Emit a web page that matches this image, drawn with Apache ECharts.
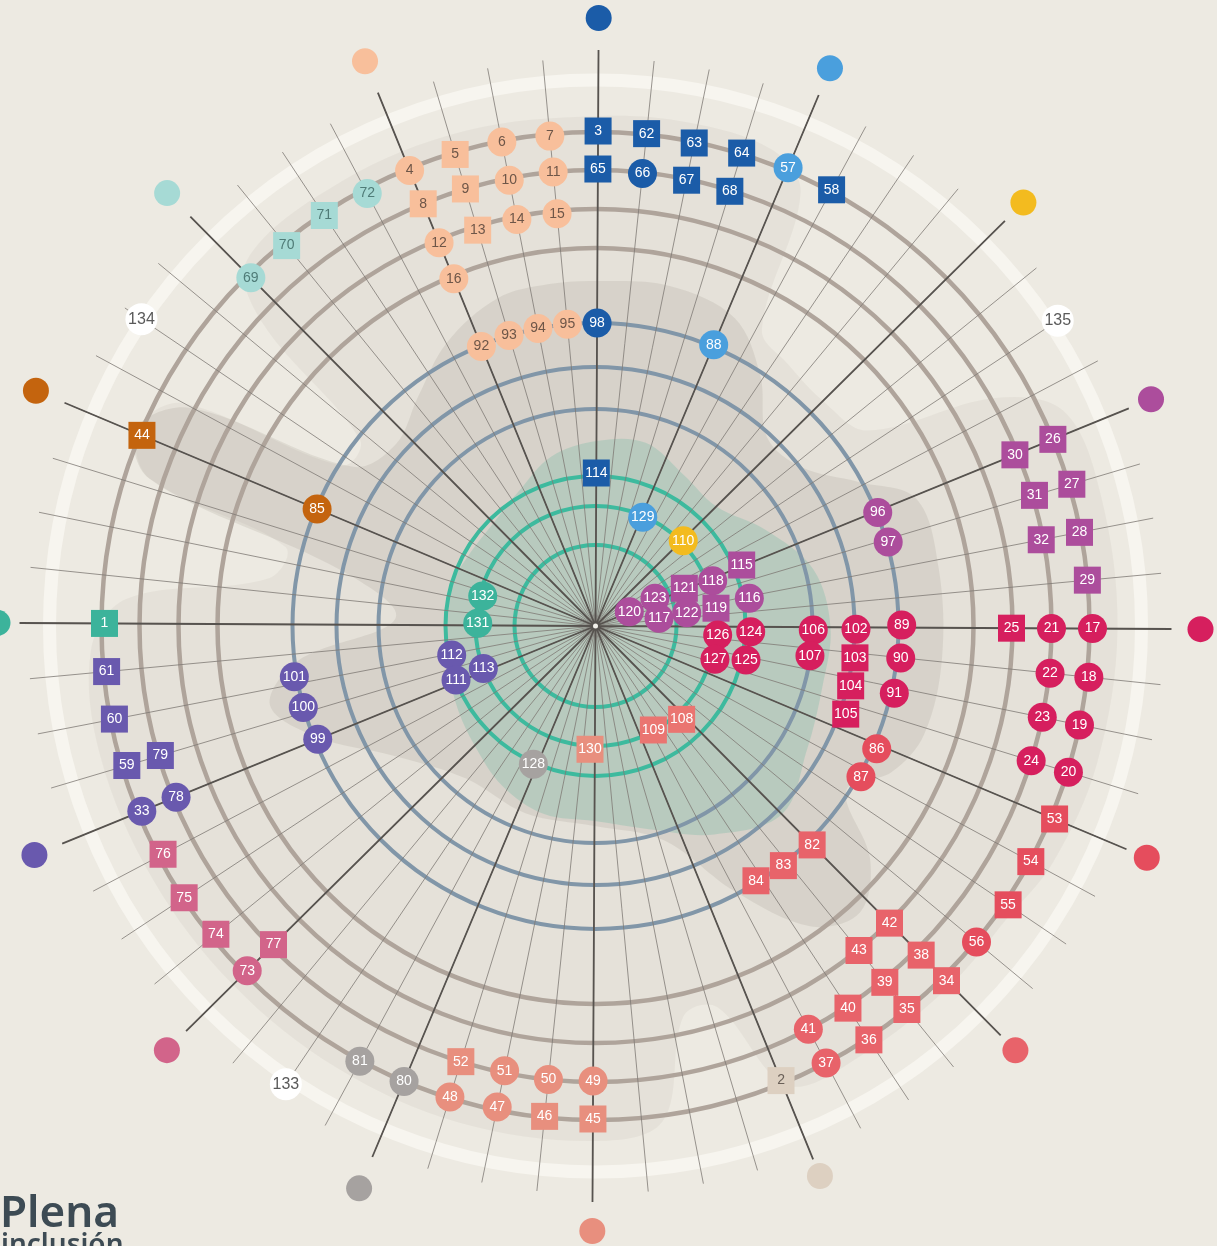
<!DOCTYPE html>
<html><head><meta charset="utf-8">
<script src="https://cdn.jsdelivr.net/npm/echarts/dist/echarts.min.js"></script>
<style>html,body{margin:0;padding:0;background:#edeae2;overflow:hidden}#c{width:1217px;height:1246px}</style>
</head><body><div id="c"></div>
<script>
// ---------- DATA ----------
// angle in degrees clockwise from top, radius in chart units (= px from centre)
const markerIds = [
  3,62,63,64,65,66,67,68,58,98,114,
  57,88,129,
  110,
  26,30,27,31,28,32,29,96,97,115,118,121,116,123,120,117,122,119,
  17,21,25,18,22,19,23,20,24,89,102,106,107,103,90,104,91,105,126,124,127,125,
  53,54,55,56,86,87,
  34,38,42,82,35,39,43,83,36,40,84,37,41,
  108,109,
  2,
  45,49,46,50,47,51,48,52,130,
  80,81,128,
  133,134,135,
  73,77,74,75,76,
  33,78,99,59,79,100,60,101,61,112,113,111,
  1,131,132,
  44,85,
  69,70,71,72,
  4,5,6,7,8,9,10,11,12,13,14,15,16,92,93,94,95
];
const markerAngles = [
  0,5.625,11.25,16.875,0,5.625,11.25,16.875,28.125,0,0,
  22.5,22.5,23.2,
  45.5,
  67.5,67.5,73.125,73.125,78.75,78.75,84.375,67.8,73.7,67.05,68.6,66.7,79.5,64.7,66.8,82.8,81.4,81.3,
  90,90,90,95.625,95.625,101.25,101.25,106.875,106.875,89.5,90.4,90.75,97.6,96.7,95.7,102.9,102.4,109.1,93.9,91.8,105.3,102.4,
  112.5,118.125,123.75,129.375,113.3,119.3,
  135,135,135,135,140.625,140.625,140.625,141.6,146.25,146.25,147.5,151.875,151.875,
  137,150.6,
  157.5,
  180,180,185.625,185.625,191.25,191.25,196.875,196.875,182.25,
  202.5,208.125,203.9,
  213.75,303.75,56.25,
  225,225,230.625,236.25,241.875,
  247.5,247.5,247.5,253.125,253.125,254.1,258.75,260.15,264.375,258.3,249,248.5,
  270,271,284.6,
  292.5,292.5,
  315,320.625,326.25,331.875,
  337.5,343.125,348.75,354.375,337.5,343.125,348.75,354.375,337.5,343.125,348.75,354.375,337.5,337.5,343.125,348.75,354.375
];
const markerRadii = [
  495,495,493,495,457,455,455,455,496,303,153,
  497,305,118.5,
  122.4,
  494,453,497,458,493,454,494,304.2,304.5,158.4,125.6,96.5,156.3,65.6,36.7,64,92.2,121.8,
  497,456,416,496,457,494,456,495,456,306.2,260.5,217.8,216.5,261.4,306.9,262.1,306.3,265.3,122.5,155.3,124,154.3,
  498,495,498,495,306.9,305.3,
  499,463,418,308,494,459,418,304.5,496,458,301.1,494,456,
  127,119,
  491,
  493,455,493,456,491,454,493,456,123.4,
  494,495,151.6,
  553,548,554,
  490,453,489,493,489,
  490,453,300,489,454,303.4,490,305.4,491,146.7,119.9,149.6,
  491,117.8,116.7,
  492,302,
  490,490,492,489,
  492,492,493,492,456,456,454,456,414,413,414,414,375,302,303,303,303
];
// s = square, c = circle
const markerShapes = (
  'ssssscssscs' + 'ccc' + 'c' +
  'ssssssscc' + 'scs' + 'cccccs' +
  'ccs' + 'cccccc' + 'cccc' + 'scscs' + 'cccc' +
  'sssccc' +
  'sssssssssss' + 'cc' + 'ss' +
  's' + 'scsccccss' + 'ccc' + 'ccc' + 'cssss' +
  'cccsscscsccc' + 'scc' + 'sc' + 'cssc' +
  'cscc' + 'sscc' + 'cscc' + 'c' + 'cccc'
).split('');
// colour group of each run of markers above
const groupRuns = [['db',11],['lb',3],['ye',1],['pu',18],['cr',22],['re',6],['co',13],['sr',2],['be',1],
  ['sa',9],['gr',3],['wh',3],['pi',5],['in',12],['te',3],['or',2],['lt',4],['pe',17]];

// outer category dots
const dotAngles = [0,22.5,45,67.5,90,112.5,135,157.5,180,202.5,225,247.5,270,292.5,315,337.5];
const dotRadii  = [608,605,602,600,605,598,597,594,605,610,603,606,598,607,609,610];
const dotGroups = ['db','lb','ye','pu','cr','re','co','be','sa','gr','pi','in','te','or','lt','pe'];

// rings
const ringRadii = [546,494,456,417,378,303,259,217,150,120,81];
const ringKinds = ['pale','brown','brown','brown','brown','blue','blue','blue','teal','teal','teal'];

// background shapes (angle, radius samples)
const lightBlobAngles = [0,10,20,25,29,36,45,54,60,65,75,90,105,117,125,135,148,157,162,167,172,180,195,210,225,240,255,267,273,278,284,288,293,298,302,308,312,316,330,345];
const lightBlobRadii  = [510,512,508,480,340,325,320,335,460,515,522,522,520,515,505,505,505,498,400,400,500,515,515,512,510,510,512,505,470,330,320,470,498,470,300,300,450,505,512,512];
const midBlobAngles = [0,12,24,33,42,52,61,68,80,95,108,116,123,130,137,144,152,162,180,200,220,237,248,256,263,272,282,288,293,298,303,312,322,332,343,352];
const midBlobRadii  = [345,348,338,300,255,260,300,345,348,348,346,330,300,360,390,370,300,225,200,200,200,240,300,335,300,200,260,470,500,460,290,270,290,320,342,345];
const tealBlobAngles = [0,15,30,45,60,75,90,105,120,135,150,165,180,195,210,225,240,255,270,285,300,315,330,345];
const tealBlobRadii  = [185,190,175,170,195,225,235,235,245,265,240,210,195,195,185,170,160,152,150,150,145,145,155,175];

// ---------- STYLE ----------
const CX = 595.5, CY = 626, RMAX = 620;
const groupColor = {db:'#1b5ca8',lb:'#4a9fdd',ye:'#f3bb1f',pu:'#ac4d9c',cr:'#d61f5e',re:'#e54d5d',co:'#e8636a',
  sr:'#ea7571',be:'#ddd0c1',sa:'#e88f7e',gr:'#a6a2a0',wh:'#ffffff',pi:'#d2648a',in:'#6959ae',te:'#3cb39b',
  or:'#c4640e',lt:'#a6dad5',pe:'#f8bf9b'};
const labelColor = {pe:'#6e5648',lt:'#4f7b77',be:'#6a6058',wh:'#5a5a5a'};
const ringStyle = {pale:{c:'#f7f5ef',w:13},brown:{c:'#afa49b',w:4.5},blue:{c:'#8196a8',w:4},teal:{c:'#3dba9e',w:4}};
const FONT = "'Liberation Sans Narrow','Liberation Sans',Arial,sans-serif";

const markerGroups = [];
groupRuns.forEach(([g,n]) => { for (let k = 0; k < n; k++) markerGroups.push(g); });

const markerData = markerIds.map((id,i) => {
  const g = markerGroups[i], sq = markerShapes[i] === 's';
  return {
    name: String(id),
    value: [markerRadii[i], markerAngles[i]],
    symbol: sq ? 'rect' : 'circle',
    symbolSize: sq ? 27 : (g === 'wh' ? 32 : 29),
    itemStyle: {color: groupColor[g], opacity: 1},
    label: {color: labelColor[g] || '#ffffff', fontSize: g === 'wh' ? 16 : 14}
  };
});
const dotData = dotAngles.map((a,i) => ({value:[dotRadii[i], a], itemStyle:{color: groupColor[dotGroups[i]], opacity: 1}}));

const blobs = [
  {a: lightBlobAngles, r: lightBlobRadii, fill: 'rgba(140,132,120,0.08)'},
  {a: midBlobAngles, r: midBlobRadii, fill: 'rgba(140,135,125,0.16)'},
  {a: tealBlobAngles, r: tealBlobRadii, fill: 'rgba(95,180,160,0.26)'}
];

const chart = echarts.init(document.getElementById('c'), null, {renderer:'canvas'});
const option = {
  backgroundColor: '#edeae2',
  animation: false,
  polar: [
    {center:[CX,CY], radius:568},
    {center:[CX,CY], radius:576},
    {center:[CX,CY], radius:RMAX}
  ],
  angleAxis: [0,1,2].map(i => ({
    polarIndex:i, type:'value', min:0, max:360, interval:[5.625,22.5,90][i],
    startAngle:89.7, clockwise:true, z:3,
    axisLine:{show:false}, axisTick:{show:false}, axisLabel:{show:false},
    splitLine:{show:i<2, lineStyle: i===0 ? {color:'#7f7a75', width:0.8} : {color:'#57534f', width:1.8}}
  })),
  radiusAxis: [0,1,2].map(i => ({
    polarIndex:i, type:'value', min:0, max:[568,576,RMAX][i],
    axisLine:{show:false}, axisTick:{show:false}, axisLabel:{show:false}, splitLine:{show:false}
  })),
  series: [
    {
      type:'custom', coordinateSystem:'polar', polarIndex:2, z:1, silent:true,
      data: blobs.map((b,i) => [0,0,i]),
      renderItem: (params, api) => {
        const b = blobs[params.dataIndex];
        const pts = b.a.map((a,k) => api.coord([b.r[k], a]));
        return {type:'polygon', shape:{points:pts, smooth:0.35}, style:{fill:b.fill}};
      }
    },
    {
      type:'custom', coordinateSystem:'polar', polarIndex:2, z:2, silent:true,
      data: ringRadii.map((r,i) => [r,0,i]),
      renderItem: (params, api) => {
        const i = params.dataIndex;
        const c = api.coord([0,0]);
        const p = api.coord([ringRadii[i], 0]);
        const rr = Math.hypot(p[0]-c[0], p[1]-c[1]);
        const st = ringStyle[ringKinds[i]];
        return {type:'circle', shape:{cx:c[0], cy:c[1], r:rr}, style:{fill:'none', stroke:st.c, lineWidth:st.w}};
      }
    },
    {
      type:'scatter', coordinateSystem:'polar', polarIndex:2, z:4, silent:true,
      symbol:'circle', symbolSize:5, data:[[0,0]], itemStyle:{color:'#f2f0ea', opacity:1}
    },
    {
      type:'scatter', coordinateSystem:'polar', polarIndex:2, z:5, silent:true,
      symbol:'circle', symbolSize:26, data: dotData, itemStyle:{opacity:1}
    },
    {
      type:'scatter', coordinateSystem:'polar', polarIndex:2, z:6, silent:true,
      data: markerData, itemStyle:{opacity:1},
      label:{show:true, position:'inside', formatter:'{b}', fontFamily:FONT, fontSize:14}
    }
  ],
  graphic: [
    {type:'text', left:0, top:1192, z:20, style:{text:'Plena', font:'600 44px "Noto Sans"', fill:'#3d4b54'}},
    {type:'text', left:1, top:1232, z:20, style:{text:'inclusión', font:'600 28px "Noto Sans"', fill:'#3d4b54'}}
  ]
};
chart.setOption(option);
</script>
</body></html>
